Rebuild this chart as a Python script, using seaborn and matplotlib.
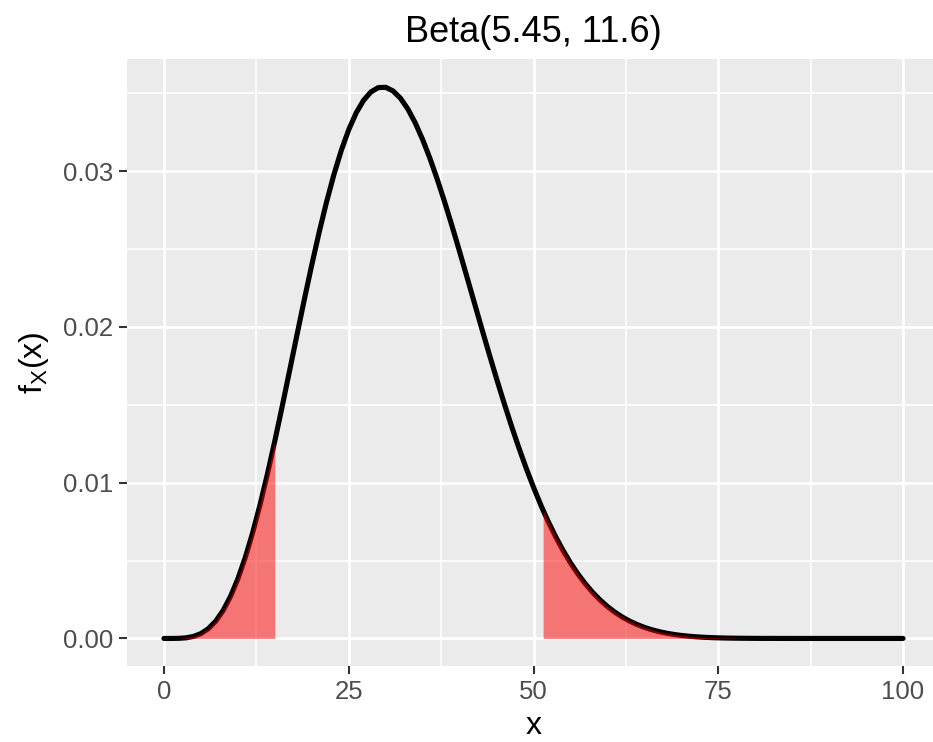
import numpy as np
import pandas as pd
import matplotlib
matplotlib.use("Agg")
import matplotlib.pyplot as plt
import seaborn as sns
from matplotlib.ticker import MultipleLocator, FormatStrFormatter

# density of Beta(5.45, 11.6) on a 0-100 scale
x_vals = list(range(0, 52)) + [51.3] + list(range(52, 101))
dens_vals = [
    0.0, 0.0, 0.000007, 0.000040, 0.000129, 0.000310, 0.000625, 0.001107,
    0.001789, 0.002691, 0.003825, 0.005193, 0.006785, 0.008583, 0.010559,
    0.012680, 0.014906, 0.017195, 0.019501, 0.021780, 0.023989, 0.026085,
    0.028032, 0.029796, 0.031350, 0.032670, 0.033741, 0.034551, 0.035095,
    0.035374, 0.035392, 0.035159, 0.034688, 0.033998, 0.033107, 0.032037,
    0.030812, 0.029456, 0.027994, 0.026449, 0.024845, 0.023206, 0.021551,
    0.019901, 0.018274, 0.016684, 0.015147, 0.013672, 0.012270, 0.010947,
    0.009709, 0.008559, 0.008232,
    0.007500, 0.006530, 0.005650, 0.004857, 0.004147, 0.003516, 0.002961,
    0.002474, 0.002052, 0.001689, 0.001379, 0.001116, 0.000895, 0.000712,
    0.000560, 0.000436, 0.000336, 0.000256, 0.000193, 0.000144, 0.000105,
    0.000076, 0.000054, 0.000038, 0.000026, 0.000018, 0.000012, 0.000008,
    0.000005, 0.000003, 0.000002, 0.000001, 0.000001,
    0.0, 0.0, 0.0, 0.0, 0.0, 0.0, 0.0, 0.0, 0.0, 0.0, 0.0, 0.0, 0.0, 0.0, 0.0, 0.0,
]
# shaded tails (5% / 95%)
shade_lo = 15
shade_hi = 51.3

df = pd.DataFrame({"x": x_vals, "density": dens_vals})

sns.set_theme(style="darkgrid", rc={"axes.facecolor": "#EBEBEB", "grid.color": "white"})
plt.rcParams["font.family"] = ["Liberation Sans", "DejaVu Sans"]

fig = plt.figure(figsize=(9.33, 7.42), dpi=100)
ax = fig.add_axes([127 / 933, 76 / 742, 813 / 933, 607 / 742])

sns.lineplot(data=df, x="x", y="density", color="black", linewidth=3.7, ax=ax, zorder=2)
left = df[df.x <= shade_lo]
right = df[df.x >= shade_hi]
ax.fill_between(left.x, 0, left.density, color="red", alpha=0.5, linewidth=0, zorder=3)
ax.fill_between(right.x, 0, right.density, color="red", alpha=0.5, linewidth=0, zorder=3)

ax.set_xlim(-5, 105)
ax.set_ylim(-0.00177, 0.03721)
ax.xaxis.set_major_locator(MultipleLocator(25))
ax.xaxis.set_minor_locator(MultipleLocator(12.5))
ax.yaxis.set_major_locator(MultipleLocator(0.01))
ax.yaxis.set_minor_locator(MultipleLocator(0.005))
ax.yaxis.set_major_formatter(FormatStrFormatter("%.2f"))
ax.grid(which="major", color="white", linewidth=1.9)
ax.grid(which="minor", color="white", linewidth=1.1)
ax.tick_params(which="major", length=5.5, width=1.5, color="#333333",
               labelcolor="#4D4D4D", labelsize=18.5, pad=4.7,
               bottom=True, left=True)
ax.tick_params(which="minor", length=0)
for s in ax.spines.values():
    s.set_visible(False)

ax.set_title("Beta(5.45, 11.6)", fontsize=26, pad=12, color="black")
ax.set_xlabel("x", fontsize=23, labelpad=5, color="black")
ax.set_ylabel(r"f$_\mathregular{X}$(x)", fontsize=23, labelpad=8, color="black")

fig.savefig("out.png", dpi=100)
